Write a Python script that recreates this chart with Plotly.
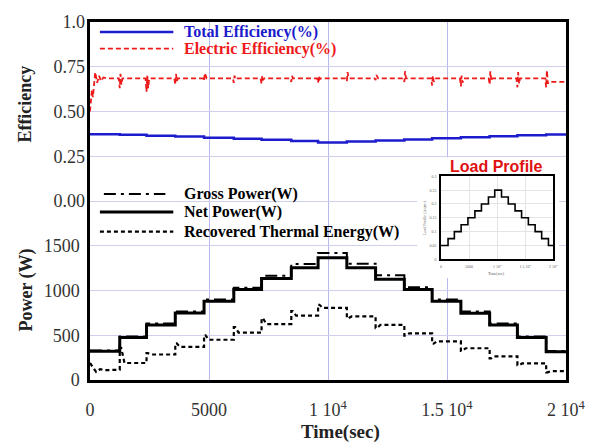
import plotly.graph_objects as go

# ---------------- data ----------------
STEP_EDGES = [0, 1250, 2375, 3583, 4792, 6042, 7208, 8458, 9583, 10792,
              12000, 13208, 14375, 15583, 16792, 17958, 19167, 20000]

NET_POWER = [320, 475, 615, 750, 880, 1010, 1135, 1255, 1365, 1255,
             1125, 1010, 880, 745, 615, 475, 315]
GROSS_POWER = [330, 485, 630, 765, 900, 1030, 1165, 1295, 1420, 1300,
               1170, 1035, 900, 765, 630, 485, 325]
THERMAL_LEVEL = [115, 190, 285, 370, 450, 530, 625, 720, 805, 710,
                 615, 520, 432, 355, 265, 185, 100]
THERMAL_SPIKE = [190, 360, 300, 410, 500, 590, 690, 770, 840, 690,
                 580, 495, 405, 325, 240, 165, 85]
THERMAL_START_T = [0, 120, 260, 420, 650]
THERMAL_START_V = [190, 140, 90, 120, 110]

TOTAL_EFF = [0.373, 0.370, 0.365, 0.360, 0.354, 0.348, 0.342, 0.335, 0.327,
             0.332, 0.338, 0.344, 0.350, 0.356, 0.362, 0.367, 0.372]

ELEC_START_T = [0, 40, 80, 120, 160, 220, 300, 380, 460, 560, 700]
ELEC_START_V = [0.50, 0.56, 0.62, 0.58, 0.66, 0.72, 0.66, 0.70, 0.67, 0.69, 0.685]
ELEC_BASE = 0.685
ELEC_LOW = [0.63, 0.61, 0.65, 0.67, 0.66, 0.655, 0.665, 0.66, 0.67, 0.675,
            0.665, 0.645, 0.64, 0.65, 0.635, 0.635]
ELEC_HIGH = [0.71, 0.70, 0.71, 0.715, 0.70, 0.70, 0.70, 0.70, 0.72, 0.705,
             0.725, 0.70, 0.70, 0.725, 0.72, 0.73]
ELEC_END = 0.665

LOAD_PROFILE = [0.05, 0.075, 0.1, 0.125, 0.15, 0.175, 0.2, 0.225, 0.25,
                0.225, 0.2, 0.175, 0.15, 0.125, 0.1, 0.075, 0.05]

X_TICKS = [0, 5000, 10000, 15000, 20000]
X_TICKTEXT = ["0", "5000", "1 10<sup>4</sup>", "1.5 10<sup>4</sup>", "2 10<sup>4</sup>"]
EFF_TICKS = [0, 0.25, 0.5, 0.75, 1.0]
EFF_TICKTEXT = ["0.00", "0.25", "0.50", "0.75", "1.0"]
POWER_TICKS = [0, 500, 1000, 1500]
INSET_Y_TICKS = [0, 0.05, 0.1, 0.15, 0.2, 0.25, 0.3]

# ---------------- build series ----------------
def step_xy(vals):
    xs = STEP_EDGES[:-1] + [STEP_EDGES[-1]]
    ys = list(vals) + [vals[-1]]
    return xs, ys

net_x, net_y = step_xy(NET_POWER)
gross_x, gross_y = step_xy(GROSS_POWER)
teff_x, teff_y = step_xy(TOTAL_EFF)
load_x, load_y = step_xy(LOAD_PROFILE)

th_x, th_y = list(THERMAL_START_T), list(THERMAL_START_V)
th_x.append(STEP_EDGES[1]); th_y.append(THERMAL_LEVEL[0])
for i in range(1, len(THERMAL_LEVEL)):
    t0, t1 = STEP_EDGES[i], STEP_EDGES[i + 1]
    th_x += [t0, t0 + 60, t0 + 200, t1]
    th_y += [THERMAL_SPIKE[i], THERMAL_SPIKE[i], THERMAL_LEVEL[i], THERMAL_LEVEL[i]]

el_x, el_y = list(ELEC_START_T), list(ELEC_START_V)
for i, t in enumerate(STEP_EDGES[1:-1]):
    el_x += [t - 40, t, t + 30, t + 70, t + 110]
    el_y += [ELEC_BASE, ELEC_LOW[i], ELEC_HIGH[i], ELEC_LOW[i] + 0.02, ELEC_BASE]
    if i == len(STEP_EDGES) - 3:
        el_y[-1] = ELEC_END
el_x.append(STEP_EDGES[-1]); el_y.append(ELEC_END)

# ---------------- figure ----------------
SERIF = "Liberation Serif"
GRID = "#cfcfee"
VGRID = "#b8b8ee"

fig = go.Figure()
fig.add_trace(go.Scatter(x=th_x, y=th_y, mode="lines", xaxis="x", yaxis="y",
                         line=dict(color="black", width=2.2, dash="4px,3px"),
                         showlegend=False))
fig.add_trace(go.Scatter(x=net_x, y=net_y, mode="lines", line_shape="hv",
                         xaxis="x", yaxis="y",
                         line=dict(color="black", width=3), showlegend=False))
fig.add_trace(go.Scatter(x=gross_x, y=gross_y, mode="lines", line_shape="hv",
                         xaxis="x", yaxis="y",
                         line=dict(color="black", width=2, dash="12px,5px,3px,5px"),
                         showlegend=False))
fig.add_trace(go.Scatter(x=teff_x, y=teff_y, mode="lines", line_shape="hv",
                         xaxis="x", yaxis="y2",
                         line=dict(color="#1c1ccc", width=2.5), showlegend=False))
fig.add_trace(go.Scatter(x=el_x, y=el_y, mode="lines", xaxis="x", yaxis="y2",
                         line=dict(color="#ee1a1a", width=1.8, dash="5px,3px"),
                         showlegend=False))
# white backdrop subplot for the inset (hides main grid behind it)
fig.add_trace(go.Scatter(x=[None], y=[None], xaxis="x3", yaxis="y3",
                         showlegend=False, hoverinfo="skip"))
# inset
fig.add_trace(go.Scatter(x=load_x, y=load_y, mode="lines", line_shape="hv",
                         xaxis="x4", yaxis="y4",
                         line=dict(color="black", width=1.6), showlegend=False))

L, R, T, B = 90, 570, 18, 380
def px(x):
    return (x - L) / (R - L)
def py(y):
    return (B - y) / (B - T)

fig.update_layout(
    width=598, height=447,
    margin=dict(l=L, r=598 - R, t=T, b=447 - B),
    paper_bgcolor="white", plot_bgcolor="white",
    font=dict(family=SERIF, color="#333333"),
    xaxis=dict(range=[0, 20000], tickvals=X_TICKS, ticktext=X_TICKTEXT,
               showgrid=True, gridcolor=VGRID, gridwidth=1, zeroline=False,
               showline=True, linecolor="black", linewidth=2.5, mirror=True,
               ticks="", tickfont=dict(size=18, family=SERIF, color="#333"),
               ticklabelstandoff=12),
    yaxis=dict(range=[0, 4000], tickvals=POWER_TICKS,
               showgrid=True, gridcolor=GRID, gridwidth=1, zeroline=False,
               showline=True, linecolor="black", linewidth=2.5, mirror=True,
               ticks="", tickfont=dict(size=18, family=SERIF, color="#333"),
               ticklabelstandoff=4),
    yaxis2=dict(range=[-1, 1], overlaying="y", side="left",
                tickvals=EFF_TICKS, ticktext=EFF_TICKTEXT,
                showgrid=True, gridcolor=GRID, gridwidth=1, zeroline=False,
                showline=False, ticks="",
                tickfont=dict(size=18, family=SERIF, color="#333"),
                ticklabelstandoff=4),
    xaxis3=dict(domain=[px(420), px(563)], anchor="y3", visible=False,
                range=[0, 1], showgrid=False),
    yaxis3=dict(domain=[py(277), py(155)], anchor="x3", visible=False,
                range=[0, 1], showgrid=False),
    xaxis4=dict(domain=[px(444), px(557)], anchor="y4", range=[0, 20000],
                tickvals=X_TICKS, ticktext=X_TICKTEXT,
                showgrid=True, gridcolor="#e4e4e4", zeroline=False,
                showline=True, linecolor="black", linewidth=1.5, mirror=True,
                ticks="", tickfont=dict(size=4, color="#666"),
                ticklabelstandoff=2),
    yaxis4=dict(domain=[py(258), py(174)], anchor="x4", range=[0, 0.3],
                tickvals=INSET_Y_TICKS,
                showgrid=True, gridcolor="#e4e4e4", zeroline=False,
                showline=True, linecolor="black", linewidth=1.5, mirror=True,
                ticks="", tickfont=dict(size=4, color="#666"),
                ticklabelstandoff=2),
)

ann = []
shapes = []
def legend_item(y, text, color, dash, width, x0=100, x1=174):
    shapes.append(dict(type="line", xref="paper", yref="paper",
                       x0=px(x0), x1=px(x1), y0=py(y), y1=py(y),
                       line=dict(color=color, width=width, dash=dash)))
    ann.append(dict(text=f"<b>{text}</b>", xref="paper", yref="paper",
                    x=px(183), y=py(y), xanchor="left", yanchor="middle",
                    showarrow=False,
                    font=dict(family=SERIF, size=16, color=color)))

legend_item(28, "Total Efficiency(%)", "#1c1ccc", "solid", 2.5)
legend_item(45, "Electric Efficiency(%)", "#ee1a1a", "5px,3px", 1.8)
legend_item(192, "Gross Power(W)", "black", "12px,5px,3px,5px", 2, x0=104, x1=166)
legend_item(210, "Net Power(W)", "black", "solid", 3)
legend_item(230, "Recovered Thermal Energy(W)", "black", "4px,3px", 2.2)

ann.append(dict(text="<b>Efficiency</b>", xref="paper", yref="paper",
                x=px(25), y=py(101), textangle=-90, showarrow=False,
                xanchor="center", yanchor="middle",
                font=dict(family=SERIF, size=18, color="#222")))
ann.append(dict(text="<b>Power (W)</b>", xref="paper", yref="paper",
                x=px(25), y=py(289), textangle=-90, showarrow=False,
                xanchor="center", yanchor="middle",
                font=dict(family=SERIF, size=18, color="#222")))
ann.append(dict(text="<b>Time(sec)</b>", xref="paper", yref="paper",
                x=px(343), y=py(433), showarrow=False,
                xanchor="center", yanchor="middle",
                font=dict(family=SERIF, size=19, color="#222")))
ann.append(dict(text="<b>Load Profile</b>", xref="paper", yref="paper",
                x=px(500), y=py(164), showarrow=False,
                xanchor="center", yanchor="middle",
                font=dict(family="Liberation Sans", size=16, color="#e01010")))
ann.append(dict(text="Load Profile (A/cm<sup>2</sup>)", xref="paper", yref="paper",
                x=px(428), y=py(216), textangle=-90, showarrow=False,
                xanchor="center", yanchor="middle",
                font=dict(family=SERIF, size=4, color="#555")))
ann.append(dict(text="Time(sec)", xref="paper", yref="paper",
                x=px(500), y=py(272), showarrow=False,
                xanchor="center", yanchor="middle",
                font=dict(family=SERIF, size=4, color="#555")))

fig.update_layout(annotations=ann, shapes=shapes)
fig.write_html("out.html")
